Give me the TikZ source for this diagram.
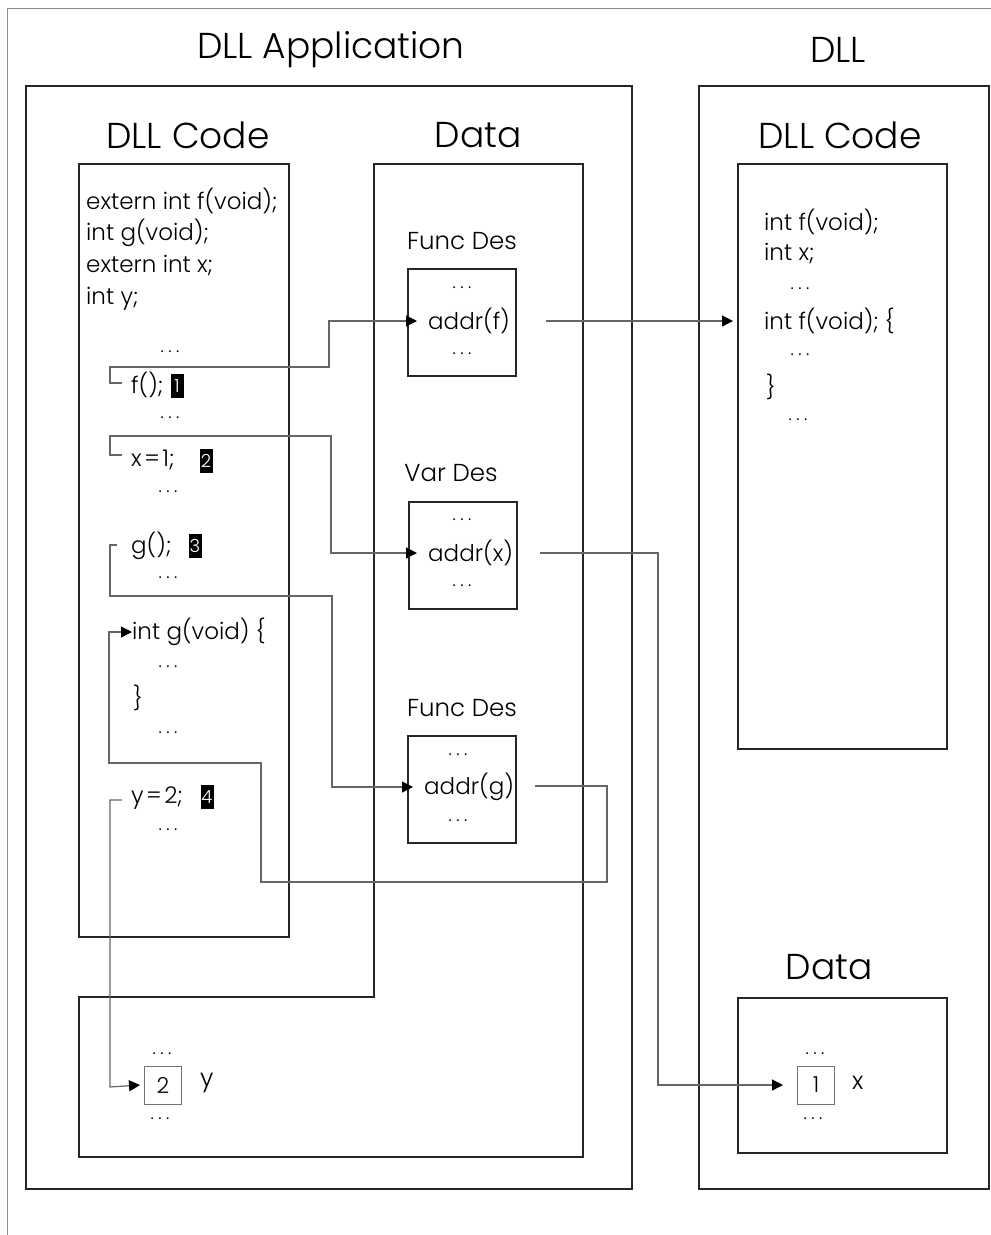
\documentclass[tikz,border=0pt]{standalone}
\usepackage{fontspec}
\setmainfont{Poppins Light}
\usetikzlibrary{arrows.meta}
\newcommand{\dd}{.\hspace{4.5pt}.\hspace{4.5pt}.}
\newcommand{\eqs}{\hspace{2.5pt}=\hspace{2.5pt}}
\begin{document}
\begin{tikzpicture}[x=1pt,y=-1pt,
  frame/.style={draw=black!45,line width=1pt},
  box/.style={draw=black!85,line width=2.6pt},
  desbox/.style={draw=black!85,line width=2pt,minimum width=108,minimum height=107,inner sep=0},
  valbox/.style={draw=black!55,line width=1pt,minimum width=37,minimum height=38,inner sep=0,font=\fontsize{22}{24}\selectfont},
  conn/.style={draw=black!60,line width=1.2pt},
  arr/.style={conn,-{Triangle[length=11pt,width=11pt,fill=black,color=black]}},
  title/.style={font=\fontsize{36}{40}\selectfont,inner sep=0},
  code/.style={anchor=west,font=\fontsize{23}{26}\selectfont,inner sep=0},
  lbl/.style={font=\fontsize{24.5}{26}\selectfont,inner sep=0},
  dots/.style={font=\fontsize{18}{20}\selectfont,inner sep=0},
  badge/.style={fill=black,text=white,font=\fontsize{18}{20}\selectfont,inner sep=0,minimum width=13,minimum height=24}
]
\useasboundingbox (0,0) rectangle (991,1235);
\draw[frame] (7,1235) -- (7,8) -- (991,8);
% titles
\node[title] (tapp) at (331,50) {DLL Application};
\node[title] (tdll) at (838,50) {DLL};
\node[title] (tcode) at (188,135) {DLL Code};
\node[title] (tdata) at (478,135) {Data};
\node[title] (tcode2) at (840,135) {DLL Code};
\node[title] (tdata2) at (829,967) {Data};
% containers
\draw[box] (26,86) rectangle (632,1189);
\draw[box] (699,86) rectangle (989,1189);
\draw[box] (79,164) rectangle (289,937);
\draw[box] (374,164) -- (583,164) -- (583,1157) -- (79,1157) -- (79,997) -- (374,997) -- cycle;
\draw[box] (738,164) rectangle (947,749);
\draw[box] (738,998) rectangle (947,1153);
% left code
\node[code] (l1) at (86,201) {extern int f(void);};
\node[code] (l2) at (86,233) {int g(void);};
\node[code] (l3) at (86,266) {extern int x;};
\node[code] (l4) at (86,299) {int y;};
\node[dots] (d1) at (170,352) {\dd};
\node[code] (fcall) at (131,385) {f();};
\node[badge] (b1) at (177,386) {1};
\node[dots] (d2) at (170,418) {\dd};
\node[code] (xas) at (131,460) {x\eqs 1;};
\node[badge] (b2) at (206,461) {2};
\node[dots] (d3) at (168,492) {\dd};
\node[code] (gcall) at (131,546) {g();};
\node[badge] (b3) at (195,546) {3};
\node[dots] (d4) at (168,578) {\dd};
\node[code] (gdef) at (132,632) {int g(void) \{};
\node[dots] (d5) at (168,667) {\dd};
\node[code] (gend) at (133,698) {\}};
\node[dots] (d6) at (168,733) {\dd};
\node[code] (yas) at (131,798) {y\eqs 2;};
\node[badge] (b4) at (207,797) {4};
\node[dots] (d7) at (168,830) {\dd};
% descriptors
\node[lbl] (fdl) at (462,241) {Func Des};
\node[desbox] (fd) at (462,322) {};
\node[dots] at (462,288) {\dd};
\node[code] (addrf) at (428,321) {addr(f)};
\node[dots] at (462,354) {\dd};
\node[lbl] (vdl) at (451,473) {Var Des};
\node[desbox] (vd) at (462.5,555.5) {};
\node[dots] at (462,520) {\dd};
\node[code] (addrx) at (428,553) {addr(x)};
\node[dots] at (462,586) {\dd};
\node[lbl] (gdl) at (462,708) {Func Des};
\node[desbox] (gd) at (462,789.5) {};
\node[dots] at (458,755) {\dd};
\node[code] (addrg) at (424,787) {addr(g)};
\node[dots] at (458,821) {\dd};
% right code
\node[code] (r1) at (764,222) {int f(void);};
\node[code] (r2) at (764,254) {int x;};
\node[dots] at (800,289) {\dd};
\node[code] (rf) at (764,321) {int f(void); \{};
\node[dots] at (800,355) {\dd};
\node[code] (r5) at (766,387) {\}};
\node[dots] at (798,420) {\dd};
% values
\node[dots] at (162,1054) {\dd};
\node[valbox] (v2) at (163,1085) {2};
\node[lbl,anchor=west] (yv) at (200,1083) {y};
\node[dots] at (160,1119) {\dd};
\node[dots] at (815,1054) {\dd};
\node[valbox] (v1) at (816,1085) {1};
\node[lbl,anchor=west] (xv) at (852,1083) {x};
\node[dots] at (813,1119) {\dd};
% connectors
\coordinate (s1) at (122,383);
\draw[arr] (s1) -- (110,383) -- (110,367) -- (329,367) -- (329,321) -- ([xshift=-11]addrf.west);
\coordinate (s2) at (122,455);
\draw[arr] (s2) -- (110,455) -- (110,436) -- (331,436) -- (331,553) -- ([xshift=-11]addrx.west);
\coordinate (s3) at (117,545);
\draw[arr] (s3) -- (110,545) -- (110,596) -- (332,596) -- (332,787) -- ([xshift=-11]addrg.west);
\coordinate (of) at (546,321);
\draw[arr] (of) -- ([xshift=-31]rf.west);
\coordinate (ox) at (540,553);
\draw[arr] (ox) -- (658,553) -- (658,1085) -- ([xshift=-14]v1.west);
\coordinate (og) at (535,786);
\draw[arr] (og) -- (607,786) -- (607,882) -- (261,882) -- (261,763) -- (109,763) -- (109,632) -- (gdef.west);
\coordinate (s5) at (122,800);
\draw[arr] (s5) -- (110,800) -- (110,1087) -- ([xshift=-4]v2.west);
\end{tikzpicture}
\end{document}
